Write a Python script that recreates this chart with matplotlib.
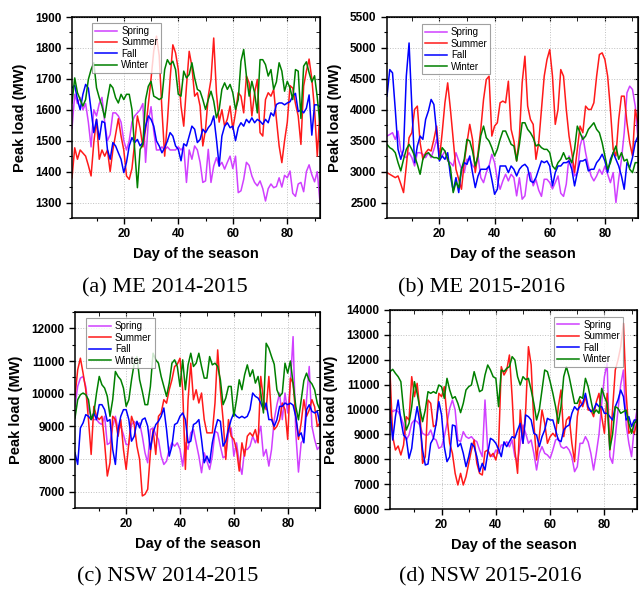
import numpy as np
import matplotlib
matplotlib.use("Agg")
import matplotlib.pyplot as plt
from matplotlib.ticker import MultipleLocator

# ---- data: daily peak load (MW) ----
season_labels = ["Spring", "Summer", "Fall", "Winter"]
season_colors = ["#d040ff", "#ff1a1a", "#0000ff", "#008000"]
panel_titles = ["(a) ME 2014-2015", "(b) ME 2015-2016", "(c) NSW 2014-2015", "(d) NSW 2015-2016"]

me1415_spring = [1540, 1650, 1620, 1640, 1600, 1620, 1560, 1480, 1600, 1580, 1620, 1640, 1560, 1500, 1520, 1590,
                 1590, 1580, 1560, 1500, 1470, 1500, 1560, 1580, 1590, 1600, 1620, 1430, 1560, 1610, 1530, 1470,
                 1470, 1480, 1470, 1480, 1470, 1470, 1470, 1480, 1470, 1480, 1365, 1470, 1440, 1483, 1470, 1430,
                 1365, 1370, 1472, 1365, 1418, 1445, 1418, 1430, 1408, 1430, 1450, 1410, 1450, 1332, 1338, 1375,
                 1430, 1420, 1386, 1365, 1354, 1370, 1345, 1305, 1345, 1360, 1348, 1352, 1380, 1350, 1388, 1380,
                 1402, 1330, 1320, 1360, 1365, 1335, 1400, 1422, 1390, 1367, 1400, 1300]
me1415_summer = [1380, 1477, 1440, 1470, 1460, 1450, 1420, 1386, 1494, 1569, 1440, 1470, 1450, 1470, 1400, 1470,
                 1520, 1571, 1515, 1470, 1386, 1375, 1410, 1494, 1580, 1540, 1480, 1537, 1617, 1700, 1790, 1838,
                 1775, 1600, 1450, 1560, 1700, 1810, 1784, 1730, 1612, 1547, 1676, 1789, 1740, 1644, 1655, 1612,
                 1483, 1537, 1644, 1698, 1832, 1655, 1560, 1600, 1547, 1570, 1612, 1537, 1590, 1655, 1644, 1590,
                 1709, 1687, 1580, 1655, 1698, 1526, 1515, 1633, 1655, 1644, 1666, 1570, 1483, 1429, 1500, 1560,
                 1678, 1670, 1620, 1580, 1488, 1677, 1725, 1764, 1700, 1600, 1450, 1600]
me1415_fall = [1671, 1679, 1633, 1600, 1650, 1682, 1670, 1600, 1526, 1569, 1504, 1563, 1558, 1472, 1440, 1494,
               1483, 1461, 1440, 1397, 1430, 1483, 1510, 1494, 1504, 1483, 1494, 1547, 1580, 1569, 1547, 1499,
               1483, 1461, 1477, 1499, 1526, 1515, 1483, 1472, 1435, 1490, 1483, 1515, 1547, 1537, 1494, 1504,
               1537, 1526, 1542, 1553, 1580, 1504, 1418, 1515, 1547, 1558, 1542, 1547, 1500, 1542, 1558, 1547,
               1569, 1558, 1574, 1558, 1569, 1563, 1553, 1569, 1558, 1590, 1580, 1617, 1622, 1622, 1616, 1622,
               1626, 1644, 1653, 1594, 1600, 1590, 1605, 1648, 1518, 1616, 1616, 1610]
me1415_winter = [1622, 1703, 1655, 1633, 1612, 1633, 1698, 1730, 1752, 1671, 1639, 1612, 1574, 1633, 1682, 1671,
                 1639, 1622, 1650, 1633, 1650, 1650, 1601, 1472, 1348, 1472, 1488, 1633, 1676, 1692, 1644, 1639,
                 1633, 1639, 1730, 1762, 1746, 1757, 1730, 1650, 1644, 1725, 1703, 1714, 1752, 1703, 1666, 1660,
                 1633, 1601, 1633, 1660, 1628, 1574, 1601, 1666, 1687, 1666, 1682, 1655, 1601, 1633, 1757, 1795,
                 1709, 1644, 1692, 1655, 1590, 1762, 1762, 1746, 1709, 1730, 1666, 1690, 1752, 1725, 1660, 1692,
                 1670, 1633, 1730, 1725, 1572, 1741, 1755, 1720, 1690, 1710, 1640, 1550]

me1516_spring = [3575, 3600, 3629, 3520, 3656, 3330, 3253, 3226, 3306, 3226, 3091, 3306, 3306, 3280, 3226, 3306,
                 3226, 3360, 3522, 3306, 3253, 3333, 3172, 3145, 3091, 3306, 3172, 3038, 2984, 3199, 3199, 3100,
                 3050, 3253, 2903, 2822, 2984, 3091, 3280, 3145, 2876, 2715, 2850, 2957, 2850, 2957, 2903, 2608,
                 2900, 2554, 2608, 2957, 2984, 2770, 2870, 2700, 2600, 2876, 2876, 2822, 2720, 2822, 2930, 2650,
                 2600, 2800, 3253, 3140, 2930, 2984, 3414, 3575, 3306, 3091, 2930, 2850, 2930, 3038, 2957, 3091,
                 2957, 2822, 2984, 2500, 2876, 3199, 3629, 4274, 4382, 4328, 4059, 3522]
me1516_summer = [2984, 2957, 2930, 2903, 2930, 2800, 2661, 3091, 3548, 3629, 4005, 4059, 3468, 3199, 3306, 3360,
                 3333, 3522, 3736, 3199, 3629, 4113, 4435, 4005, 3522, 3038, 2876, 2715, 3145, 3468, 3764, 3522,
                 2984, 3306, 3683, 4167, 4489, 4543, 3575, 3736, 3790, 4113, 4140, 4113, 4462, 3683, 3495, 3172,
                 3575, 4435, 4866, 4059, 3844, 3764, 3199, 3468, 4005, 4543, 4812, 4973, 4543, 3764, 4005, 4650,
                 4543, 4005, 3575, 3306, 2984, 3360, 3736, 3629, 4059, 4005, 4005, 4113, 4543, 4893, 4920, 4812,
                 4543, 4005, 3360, 3253, 3844, 4220, 4220, 3790, 3468, 3253, 4005, 3790]
me1516_fall = [4220, 4650, 4597, 4005, 3360, 3199, 3360, 4543, 5080, 4059, 3145, 3414, 3575, 3522, 3844, 3979,
               4167, 4086, 3629, 3172, 3253, 3199, 3306, 2930, 2688, 2903, 2661, 3038, 3145, 3118, 3253, 2984,
               2742, 2930, 3038, 3038, 3038, 3091, 2876, 2634, 2715, 3091, 3091, 3091, 2984, 3091, 3038, 2930,
               3038, 3091, 3118, 3064, 2850, 2822, 2903, 3038, 3172, 3145, 3172, 3091, 2769, 2984, 3091, 3091,
               3145, 3145, 3172, 3038, 2769, 2984, 3172, 3172, 3199, 3011, 3038, 3038, 3145, 3199, 3280, 3172,
               2984, 3199, 3306, 3199, 3091, 2930, 2715, 3145, 3064, 3226, 3468, 3575]
me1516_winter = [3441, 3387, 3360, 3306, 3145, 3011, 3199, 3360, 3441, 3360, 3253, 3118, 2957, 3199, 3280, 3306,
                 3253, 3226, 3226, 3199, 3387, 3333, 3199, 3064, 2661, 2830, 2740, 3038, 3199, 3522, 3495, 3333,
                 3091, 3253, 3580, 3736, 3548, 3495, 3387, 3253, 3360, 3522, 3656, 3656, 3550, 3441, 3414, 3172,
                 3441, 3790, 3790, 3683, 3629, 3548, 3414, 3440, 3387, 3360, 3360, 3306, 3091, 3038, 3145, 3199,
                 3306, 3199, 3226, 3145, 3360, 3736, 3629, 3522, 3575, 3683, 3736, 3790, 3683, 3629, 3468, 3253,
                 3038, 3145, 3306, 3414, 3199, 3306, 3172, 3199, 3038, 2984, 3145, 3145]

nsw1415_spring = [9612, 10222, 10476, 10527, 10222, 9510, 9307, 9206, 9206, 9104, 9054, 9307, 8444, 8495, 9003,
                  9307, 8901, 9003, 8749, 8444, 8444, 9054, 9150, 9054, 9104, 8698, 8190, 7885, 8901, 8952,
                  8749, 8596, 8089, 7834, 7936, 8292, 8495, 8393, 8495, 8292, 7783, 8495, 8292, 8800, 8901,
                  8495, 8089, 7580, 8190, 7936, 7682, 8089, 8850, 8800, 8393, 8038, 8089, 8800, 8952, 8089,
                  8495, 7885, 7530, 8292, 8292, 8393, 8698, 8495, 8698, 9003, 8089, 8292, 7783, 8292, 9206,
                  9663, 10019, 9206, 10019, 9409, 10324, 11746, 8800, 7600, 8495, 8600, 9816, 10832, 9000,
                  8600, 8292, 8394]
nsw1415_summer = [9917, 10730, 11086, 10628, 10120, 9206, 8140, 9612, 9307, 9206, 9307, 8495, 7479, 7885, 9307,
                  9206, 8698, 9206, 8292, 7682, 8495, 9307, 9054, 8393, 7987, 6869, 6920, 7073, 8190, 8901,
                  8140, 9307, 9409, 9815, 9710, 10120, 10425, 10832, 10900, 11086, 10120, 7682, 9815, 10934,
                  9815, 10120, 9714, 10019, 9206, 8800, 8800, 8800, 9714, 11340, 10120, 9206, 7987, 9206, 8698,
                  8596, 8292, 7630, 8495, 8089, 8698, 8800, 8698, 8901, 8495, 10527, 9815, 9510, 10527, 9307,
                  8901, 9003, 9206, 9714, 9510, 8600, 10476, 10324, 9307, 8600, 9104, 9816, 9307, 9500, 9816,
                  9600, 9000, 9104]
nsw1415_fall = [8190, 7834, 8951, 9104, 9358, 9307, 9206, 9409, 9206, 9663, 9663, 9510, 9155, 9206, 8292, 7834,
                8901, 9307, 9510, 9510, 9206, 8546, 8698, 9155, 8952, 9206, 9256, 9003, 8292, 8800, 9054, 9155,
                9307, 9562, 8901, 8089, 8393, 9054, 9104, 9307, 9409, 9206, 8495, 8546, 9054, 9104, 9206, 8596,
                7885, 8089, 7885, 8495, 8901, 9206, 9155, 8393, 8546, 8901, 9206, 9409, 9307, 9256, 9307, 9256,
                9307, 9510, 10019, 9917, 9866, 9714, 9510, 9714, 9206, 9206, 9003, 9206, 9612, 9612, 9714, 9663,
                9710, 9650, 9300, 8700, 8800, 8495, 9510, 9660, 9460, 9410, 9460, 9050]
nsw1415_winter = [9256, 9815, 9968, 10019, 9968, 9815, 9206, 9409, 10019, 10527, 10273, 10171, 9917, 9307, 9815,
                  10679, 10527, 10425, 10171, 9612, 9815, 10425, 10933, 11136, 10425, 10069, 9663, 9663, 10222,
                  11238, 11035, 10933, 10527, 10222, 9917, 10324, 10933, 11035, 10832, 10222, 11035, 10120,
                  10882, 11238, 10832, 10933, 11238, 10832, 10476, 10476, 11136, 10882, 10933, 10832, 10425,
                  9663, 9866, 10222, 10222, 9307, 9815, 10425, 10120, 10578, 10882, 10527, 10730, 10324, 10527,
                  10019, 9409, 11543, 11390, 11136, 10900, 10120, 9917, 10019, 10933, 10628, 11000, 10324, 9610,
                  9200, 9800, 10400, 10628, 10400, 10300, 10120, 9700, 9500]

nsw1516_spring = [10047, 9913, 9980, 9913, 9712, 9377, 8774, 8975, 9444, 9578, 9511, 9377, 9042, 8975, 8975, 9176,
                  8841, 8774, 8439, 8506, 8908, 9444, 10047, 10382, 9980, 8774, 8707, 9109, 8908, 8841, 8908,
                  8774, 8707, 8372, 8104, 10382, 8372, 8171, 8104, 8372, 8238, 8573, 8573, 8707, 8500, 8774,
                  8104, 7903, 8640, 9377, 9042, 8640, 8774, 8238, 7568, 8238, 8506, 8238, 8171, 8037, 8372,
                  8774, 8841, 8506, 8439, 8506, 8372, 8104, 7501, 7700, 8640, 8640, 8908, 8700, 8238, 7568,
                  8238, 9000, 10248, 11320, 11856, 8104, 7836, 8908, 9980, 11000, 11588, 9400, 8640, 8104, 9300,
                  9980]
nsw1516_summer = [11521, 8908, 8372, 8533, 8171, 8573, 9712, 9578, 11320, 10516, 11052, 9980, 7836, 8104, 10382,
                  10248, 9310, 9377, 10650, 10516, 10918, 9712, 8640, 8238, 7434, 6965, 7434, 6965, 7300, 7836,
                  8372, 8774, 7836, 7434, 7367, 8305, 8372, 8104, 8238, 7970, 8500, 11722, 11387, 11588, 12191,
                  10500, 8372, 7434, 9980, 8640, 9980, 12526, 11800, 9444, 7970, 8908, 9980, 9444, 8640, 8908,
                  9042, 8908, 10114, 10784, 8908, 9578, 9712, 8640, 7903, 9712, 10382, 10114, 10516, 9980, 9980,
                  9712, 10300, 10650, 9712, 9042, 10650, 8372, 10000, 11588, 11990, 12526, 13464, 10650, 9042,
                  9200, 9042, 9500]
nsw1516_fall = [9980, 8774, 9712, 10382, 9578, 8975, 8841, 8037, 8439, 9444, 10114, 9444, 8372, 7769, 7809, 8640,
                8841, 9444, 10315, 9780, 8506, 7903, 8104, 9377, 9340, 8506, 8640, 8238, 7702, 8104, 8640, 8506,
                8104, 7501, 7836, 7568, 8238, 8841, 8774, 8640, 8400, 8104, 8700, 8506, 8707, 8908, 8850, 9176,
                9444, 8640, 9780, 9712, 9578, 9042, 8975, 8506, 8908, 9176, 9645, 9578, 9578, 9176, 8774, 8707,
                9176, 9310, 9377, 9846, 10114, 9980, 10114, 10248, 10650, 10114, 9913, 9980, 10248, 10114, 10114,
                9846, 9846, 9712, 9578, 10114, 10382, 10784, 10516, 9578, 9712, 9310, 9578, 9578]
nsw1516_winter = [11521, 11615, 11454, 11320, 11119, 9980, 9176, 9444, 10114, 11119, 10650, 10047, 9511, 9980,
                  10717, 10650, 10717, 10650, 10985, 10918, 10449, 11253, 10784, 10449, 10516, 10248, 9873,
                  10248, 10784, 10918, 10985, 11521, 11119, 10717, 10784, 11387, 11789, 11588, 11320, 11253,
                  10114, 11588, 11521, 11655, 11722, 12124, 11990, 11320, 10985, 11320, 11200, 11253, 10784,
                  10248, 9578, 9980, 10784, 11588, 11521, 11119, 10650, 10114, 9444, 10114, 11320, 11722, 11320,
                  10784, 10248, 10248, 10516, 10449, 11253, 10918, 10382, 9846, 9980, 9846, 10850, 10516, 10248,
                  8400, 9000, 10114, 10047, 9846, 9913, 9980, 9444, 9042, 9444, 9578]

panel_series = [
    [me1415_spring, me1415_summer, me1415_fall, me1415_winter],
    [me1516_spring, me1516_summer, me1516_fall, me1516_winter],
    [nsw1415_spring, nsw1415_summer, nsw1415_fall, nsw1415_winter],
    [nsw1516_spring, nsw1516_summer, nsw1516_fall, nsw1516_winter],
]
panel_ylim = [(1250, 1900), (2250, 5500), (6500, 12500), (6000, 14000)]
panel_ymajor = [100, 500, 1000, 1000]

# ---- layout (figure fractions) ----
W, H = 643, 590
axes_px = [(72, 17, 320, 218), (387, 17, 638, 218), (75, 312, 320, 508), (390, 310, 637, 509)]
legend_anchor = [(0.081, 0.97), (0.138, 0.964), (0.044, 0.968), (0.664, 0.966)]
caption_px = [(165, 288), (482, 288), (168, 577), (490, 577)]

plt.rcParams["font.family"] = ["Liberation Sans", "DejaVu Sans"]

fig = plt.figure(figsize=(W / 100, H / 100), dpi=100)

for i, series in enumerate(panel_series):
    x0, y0, x1, y1 = axes_px[i]
    ax = fig.add_axes([x0 / W, 1 - y1 / H, (x1 - x0) / W, (y1 - y0) / H])

    for vals, lab, col in zip(series, season_labels, season_colors):
        days = np.arange(1, len(vals) + 1)
        ax.plot(days, vals, color=col, lw=1.1, label=lab)

    lo, hi = panel_ylim[i]
    ax.set_xlim(1, 92)
    ax.set_ylim(lo, hi)
    ax.xaxis.set_major_locator(MultipleLocator(20))
    ax.xaxis.set_minor_locator(MultipleLocator(10))
    ax.yaxis.set_major_locator(MultipleLocator(panel_ymajor[i]))
    ax.yaxis.set_minor_locator(MultipleLocator(panel_ymajor[i] / 2))
    if i == 2:
        ax.set_yticks(np.arange(7000, 12001, 1000))

    ax.grid(True, which="major", ls=":", lw=0.7, color="#c0c0c0")
    ax.tick_params(which="major", direction="out", length=4, width=1, labelsize=8.5)
    ax.tick_params(which="minor", direction="out", length=2.5, width=0.8)
    for lbl in ax.get_xticklabels() + ax.get_yticklabels():
        lbl.set_fontweight("bold")
    for sp in ax.spines.values():
        sp.set_linewidth(1.1)

    # mirrored inward ticks on top and right spines
    top = ax.secondary_xaxis("top")
    top.xaxis.set_major_locator(MultipleLocator(20))
    top.xaxis.set_minor_locator(MultipleLocator(10))
    top.tick_params(which="both", direction="in", labeltop=False, length=3)
    right = ax.secondary_yaxis("right")
    right.yaxis.set_major_locator(MultipleLocator(panel_ymajor[i]))
    right.yaxis.set_minor_locator(MultipleLocator(panel_ymajor[i] / 2))
    right.tick_params(which="both", direction="in", labelright=False, length=3)

    ax.set_xlabel("Day of the season", fontsize=10.5, fontweight="bold", labelpad=5)
    ax.set_ylabel("Peak load (MW)", fontsize=10.5, fontweight="bold", labelpad=6)

    leg = ax.legend(loc="upper left", bbox_to_anchor=legend_anchor[i], borderaxespad=0,
                    fontsize=7, frameon=True, fancybox=False, edgecolor="#888888",
                    handlelength=2.3, handletextpad=0.4, labelspacing=0.15, borderpad=0.3)
    leg.get_frame().set_linewidth(0.8)

    cx, cy = caption_px[i]
    fig.text(cx / W, 1 - cy / H, panel_titles[i], ha="center", va="center",
             fontsize=16, family=["Liberation Serif", "DejaVu Serif"])

fig.savefig("out.png", dpi=100)
